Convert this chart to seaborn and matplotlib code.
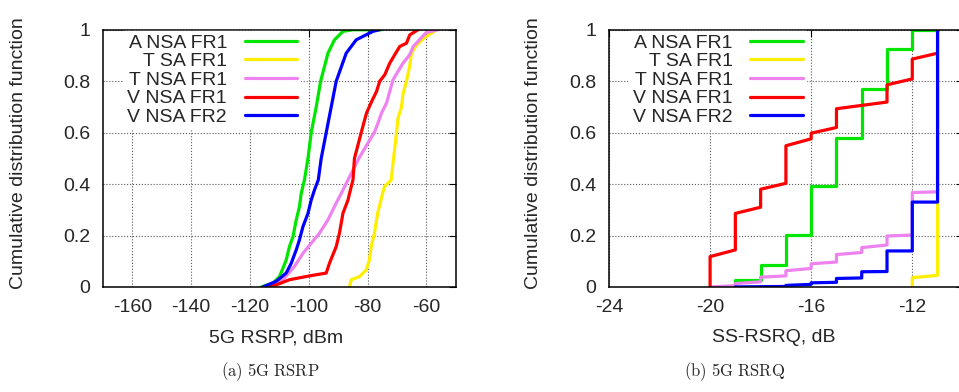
import numpy as np
import pandas as pd
import matplotlib
matplotlib.use("Agg")
import matplotlib.pyplot as plt
import seaborn as sns

# ---- data ----
labels = ['A NSA FR1', 'T SA FR1', 'T NSA FR1', 'V NSA FR1', 'V NSA FR2']
colors = ['#00e600', '#ffee00', '#ee82ee', '#ff0000', '#0000ff']

# (a) 5G RSRP, dBm
rsrp_a_x = [-116.2, -112.2, -110.0, -108.8, -107.7, -106.6, -105.4, -104.3, -103.2, -102.6,
            -101.5, -100.3, -99.2, -97.5, -96.0, -93.5, -91.3, -88.4, -85.0, -75.3]
rsrp_a_y = [0, 0.015, 0.04, 0.073, 0.105, 0.157, 0.196, 0.26, 0.312, 0.364,
            0.416, 0.5, 0.6, 0.7, 0.8, 0.909, 0.961, 0.994, 1.0, 1.0]

rsrp_tsa_x = [-86.2, -85.6, -82.8, -80.5, -79.4, -78.8, -77.7, -76.6, -74.9, -74.3, -72.0,
              -71.2, -70.2, -69.7, -68.5, -68.0, -66.8, -65.7, -65.1, -63.4, -60.6, -56.6]
rsrp_tsa_y = [0, 0.028, 0.04, 0.066, 0.105, 0.157, 0.209, 0.287, 0.364, 0.39, 0.416,
              0.5, 0.6, 0.655, 0.70, 0.75, 0.80, 0.86, 0.91, 0.94, 0.97, 1.0]

rsrp_tnsa_x = [-115.0, -108.8, -104.9, -102.0, -99.2, -96.4, -93.5, -90.7, -88.4, -86.7, -83.0,
               -77.6, -76.5, -75.3, -73.6, -72.5, -71.4, -69.7, -68.0, -65.7, -64.5, -61.7,
               -60.0, -56.1]
rsrp_tnsa_y = [0, 0.028, 0.08, 0.131, 0.17, 0.209, 0.261, 0.326, 0.377, 0.416, 0.5,
               0.604, 0.637, 0.676, 0.715, 0.76, 0.805, 0.838, 0.87, 0.903, 0.935, 0.97,
               0.99, 1.0]

rsrp_v1_x = [-114.5, -111.1, -106.6, -99.8, -94.1, -93.0, -90.7, -89.6, -88.4, -86.7, -85.6,
             -85.0, -84.5, -82.2, -81.5, -80.4, -78.7, -77.0, -75.9, -74.2, -72.5, -70.8,
             -69.1, -66.8, -65.7, -62.9]
rsrp_v1_y = [0, 0.008, 0.028, 0.043, 0.054, 0.092, 0.157, 0.209, 0.287, 0.338, 0.39,
             0.416, 0.5, 0.6, 0.63, 0.676, 0.72, 0.76, 0.8, 0.825, 0.87, 0.903,
             0.935, 0.948, 0.98, 1.0]

rsrp_v2_x = [-115.6, -111.1, -107.7, -106.0, -104.3, -103.2, -102.0, -100.3, -99.2, -98.1,
             -96.8, -95.8, -94.1, -92.4, -90.7, -87.3, -83.9, -78.2, -76.0]
rsrp_v2_y = [0, 0.022, 0.054, 0.092, 0.144, 0.183, 0.235, 0.286, 0.338, 0.377,
             0.416, 0.5, 0.6, 0.7, 0.8, 0.909, 0.961, 0.994, 1.0]

# (b) SS-RSRQ, dB
rsrq_a_x = [-19, -19, -18, -18, -17, -17, -16, -16, -15, -15, -14, -14, -13, -13, -12, -12, -11]
rsrq_a_y = [0, 0.027, 0.027, 0.085, 0.085, 0.202, 0.202, 0.394, 0.394, 0.581, 0.581,
            0.77, 0.77, 0.925, 0.925, 1.0, 1.0]

rsrq_tsa_x = [-12, -12, -11, -11]
rsrq_tsa_y = [0, 0.036, 0.045, 1.0]

rsrq_tnsa_x = [-20, -19, -19, -18, -18, -17, -17, -16, -16, -15, -15, -14, -14, -13, -13,
               -12, -12, -11, -11]
rsrq_tnsa_y = [0, 0.005, 0.013, 0.02, 0.038, 0.043, 0.063, 0.072, 0.09, 0.097, 0.126,
               0.134, 0.153, 0.163, 0.198, 0.202, 0.367, 0.37, 1.0]

rsrq_v1_x = [-20, -20, -19, -19, -18, -18, -17, -17, -16, -16, -15, -15, -13, -13, -12, -12, -11]
rsrq_v1_y = [0, 0.118, 0.144, 0.286, 0.31, 0.38, 0.403, 0.549, 0.576, 0.598, 0.62,
             0.693, 0.719, 0.786, 0.809, 0.886, 0.909]

rsrq_v2_x = [-19, -17, -17, -16, -16, -15, -15, -14, -14, -13, -13, -12, -12, -11, -11]
rsrq_v2_y = [0, 0.002, 0.006, 0.01, 0.016, 0.018, 0.033, 0.035, 0.059, 0.06, 0.14,
             0.14, 0.33, 0.33, 1.0]

rsrp_xticks = [-160, -140, -120, -100, -80, -60]
rsrq_xticks = [-24, -20, -16, -12]
cdf_ticks = [0, 0.2, 0.4, 0.6, 0.8, 1]

sns.set_theme(style='white')
plt.rcParams['font.family'] = ['Liberation Sans', 'DejaVu Sans']
plt.rcParams['mathtext.fontset'] = 'cm'
plt.rcParams['axes.unicode_minus'] = False

fig = plt.figure(figsize=(9.59, 3.92), dpi=100)
ax1 = fig.add_axes([0.1074, 0.268, 0.368, 0.656])
ax2 = fig.add_axes([0.635, 0.268, 0.369, 0.656])

rsrp = [(rsrp_a_x, rsrp_a_y), (rsrp_tsa_x, rsrp_tsa_y), (rsrp_tnsa_x, rsrp_tnsa_y),
        (rsrp_v1_x, rsrp_v1_y), (rsrp_v2_x, rsrp_v2_y)]
rsrq = [(rsrq_a_x, rsrq_a_y), (rsrq_tsa_x, rsrq_tsa_y), (rsrq_tnsa_x, rsrq_tnsa_y),
        (rsrq_v1_x, rsrq_v1_y), (rsrq_v2_x, rsrq_v2_y)]


def draw_panel(ax, series, xlim, xticks, xlabel, xlab_x, ylab_x, leg_x):
    for (xs, ys), lab, col in zip(series, labels, colors):
        sns.lineplot(x=xs, y=ys, ax=ax, sort=False, estimator=None,
                     color=col, linewidth=2.3, label=lab)
    ax.set_xlim(*xlim)
    ax.set_ylim(0, 1)
    ax.set_xticks(xticks)
    ax.set_yticks(cdf_ticks)
    ax.set_yticklabels(['%g' % t for t in cdf_ticks])
    ax.grid(True, linestyle=':', color='0.35', linewidth=0.8)
    for s in ax.spines.values():
        s.set_color('black')
        s.set_linewidth(1.1)
    ax.tick_params(axis='both', direction='in', length=5, width=0.8, color='black',
                   labelsize=14, top=True, right=True)
    ax.tick_params(axis='x', pad=9)
    ax.tick_params(axis='y', pad=9)
    ax.set_xlabel(xlabel, fontsize=14)
    ax.xaxis.set_label_coords(xlab_x, -0.165)
    ax.set_ylabel('Cumulative distribution function', fontsize=14)
    ax.yaxis.set_label_coords(ylab_x, 0.52)
    leg = ax.legend(loc='upper right', bbox_to_anchor=(leg_x, 0.995), fontsize=14,
                    markerfirst=False, frameon=True, fancybox=False, framealpha=1,
                    edgecolor='white', facecolor='white', borderpad=0.15,
                    labelspacing=0.05, handlelength=2.7, handletextpad=0.9,
                    borderaxespad=0)
    for line in leg.get_lines():
        line.set_linewidth(2.3)
    leg.set_zorder(10)


draw_panel(ax1, rsrp, (-170, -50), rsrp_xticks, '5G RSRP, dBm', 0.49, -0.215, 0.558)
draw_panel(ax2, rsrq, (-24, -10), rsrq_xticks, 'SS-RSRQ, dB', 0.466, -0.19, 0.556)

fig.text(270 / 959, 0.051, r'$\mathrm{(a)\ 5G\ RSRP}$', fontsize=12, ha='center', va='center')
fig.text(735 / 959, 0.051, r'$\mathrm{(b)\ 5G\ RSRQ}$', fontsize=12, ha='center', va='center')

fig.savefig('out.png', dpi=100)
